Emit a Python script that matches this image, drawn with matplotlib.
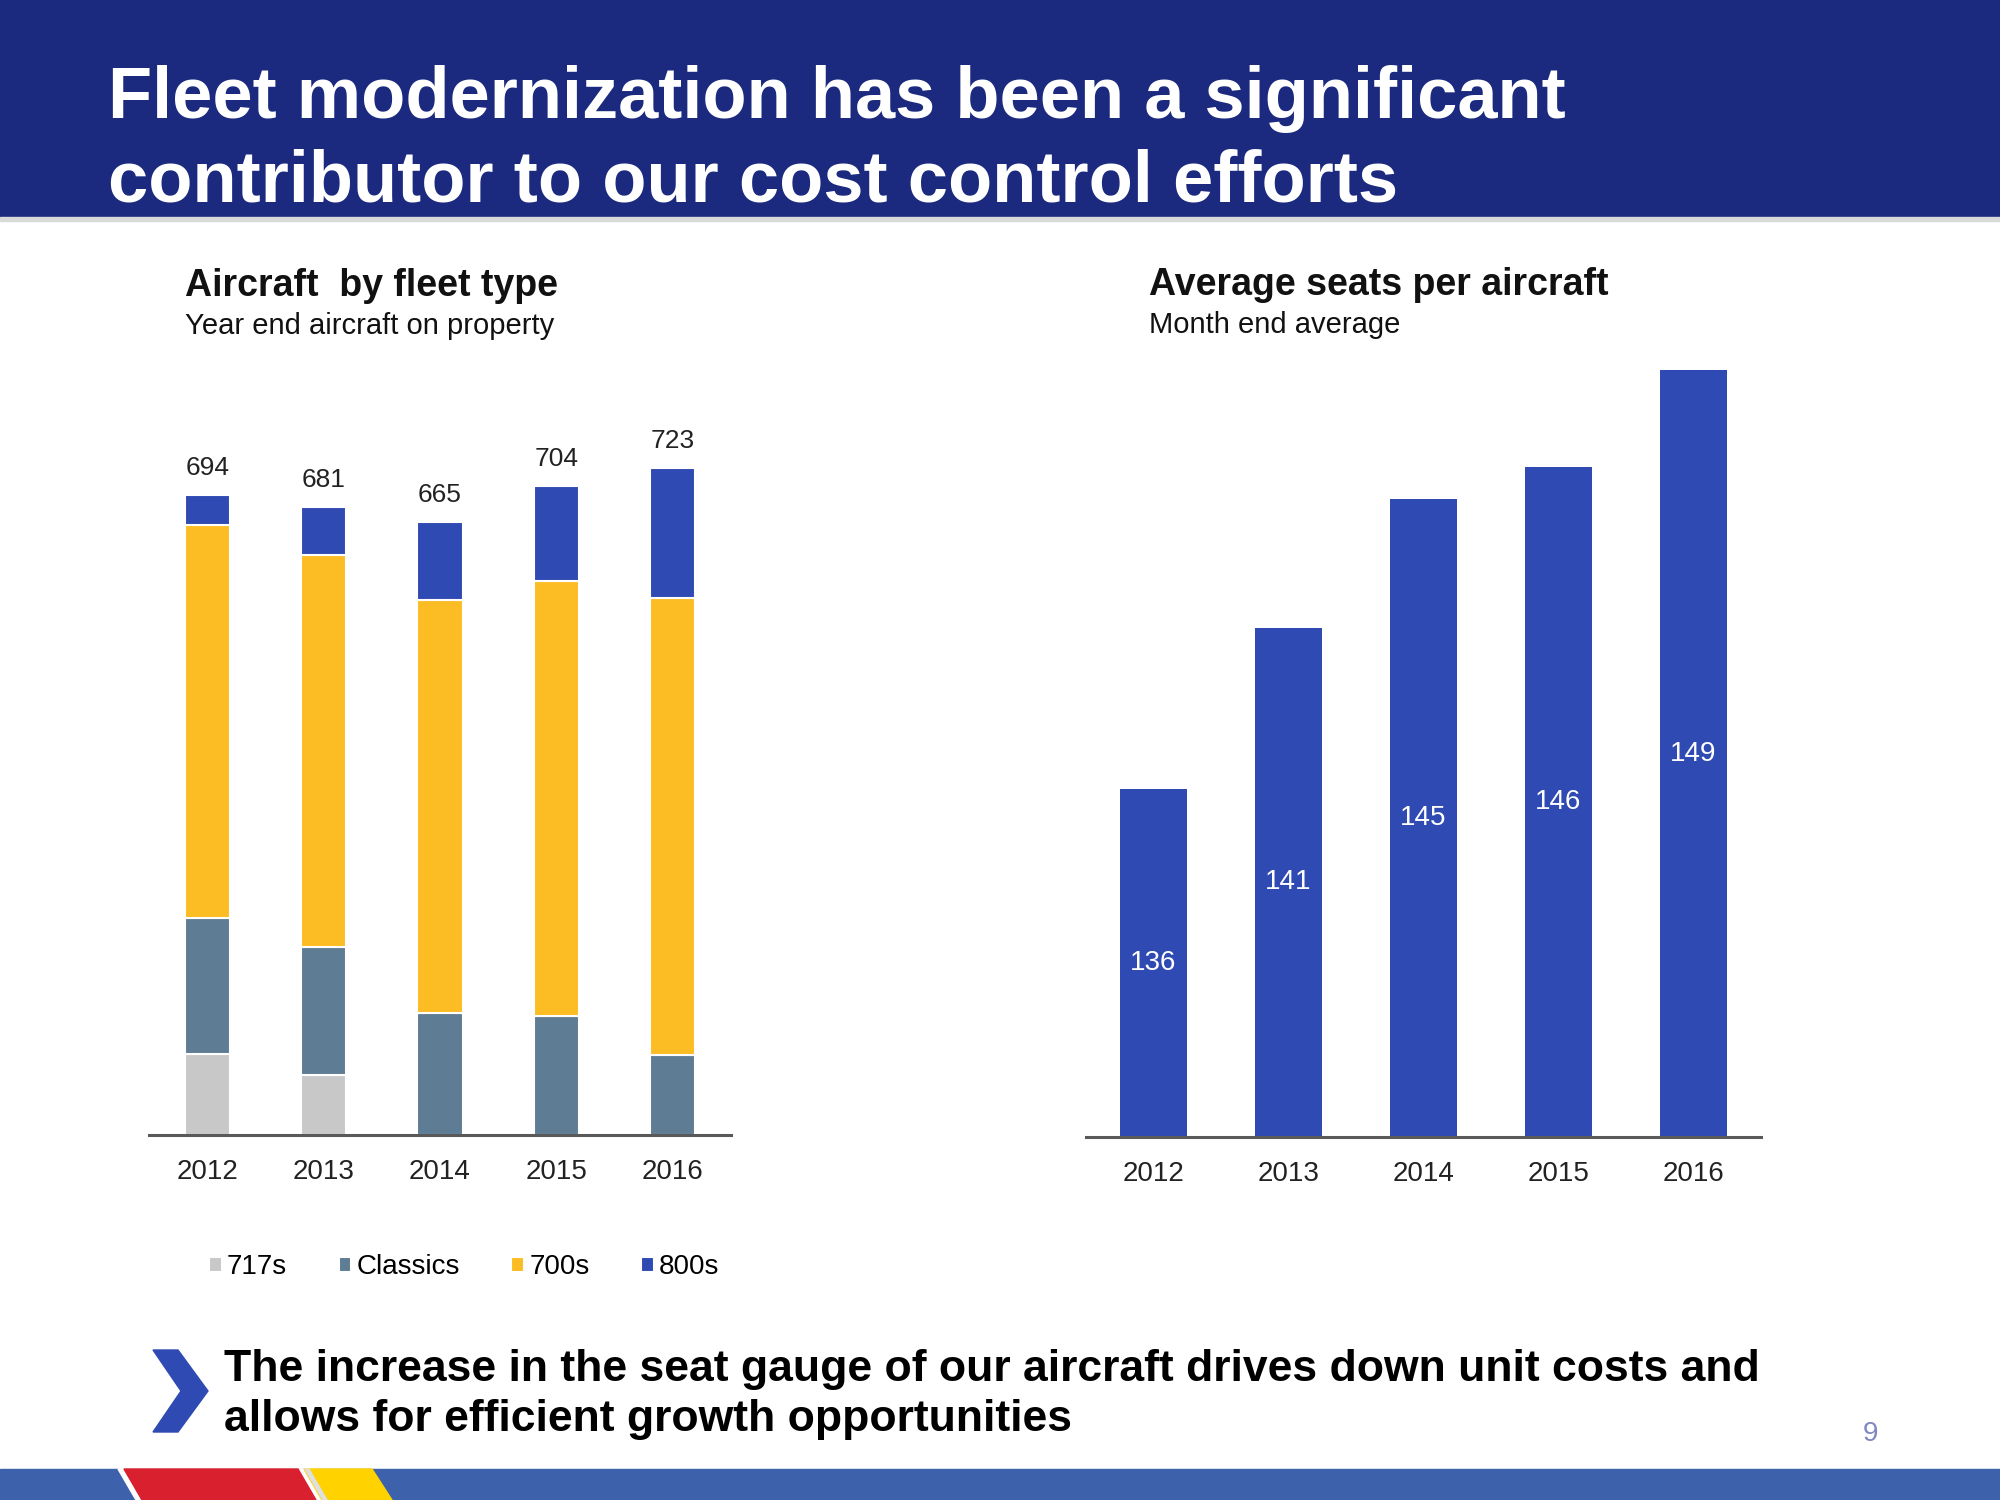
import numpy as np
import matplotlib.pyplot as plt
from matplotlib.patches import Polygon, Rectangle

plt.rcParams['font.family'] = ['Liberation Sans', 'DejaVu Sans']

# Datos
years = ['2012', '2013', '2014', '2015', '2016']
s717 = [88, 65, 0, 0, 0]
classics = [147, 139, 132, 129, 87]
s700 = [426, 425, 448, 472, 495]
s800 = [33, 52, 85, 103, 141]
fleet_labels = ['717s', 'Classics', '700s', '800s']
fleet_colors = ['#C8C8C8', '#5E7C93', '#FBBD23', '#2F4AB2']

seats = [136, 141, 145, 146, 149]
seats_base = 125.2

navy = '#1B2A7E'
blue = '#2F4AB2'

fig = plt.figure(figsize=(20, 15), dpi=100)

# Banda del titulo
fig.patches.append(Rectangle((0, 1 - 217 / 1500), 1, 217 / 1500, transform=fig.transFigure,
                             color=navy, zorder=0))
fig.patches.append(Rectangle((0, 1 - 221 / 1500), 1, 4 / 1500, transform=fig.transFigure,
                             color='#D9D9D9', zorder=0))
fig.text(108 / 2000, 1 - 118 / 1500, 'Fleet modernization has been a significant',
         color='white', fontsize=52, fontweight='bold', va='baseline')
fig.text(108 / 2000, 1 - 202 / 1500, 'contributor to our cost control efforts',
         color='white', fontsize=52, fontweight='bold', va='baseline')

# Grafica izquierda: apilada
ax1 = fig.add_axes([149 / 2000, 365 / 1500, 582 / 2000, 738 / 1500])
x = np.arange(len(years))
bottom = np.zeros(len(years))
handles = []
for vals, lab, col in zip([s717, classics, s700, s800], fleet_labels, fleet_colors):
    b = ax1.bar(x, vals, width=0.39, bottom=bottom, color=col, edgecolor='white',
                linewidth=1.5, label=lab)
    handles.append(b)
    bottom += np.array(vals)
for xi, tot in zip(x, bottom):
    ax1.text(xi, tot + 16, f'{int(tot)}', ha='center', va='bottom', fontsize=19, color='#222222')
ax1.set_xlim(-0.5, 4.5)
ax1.set_ylim(0, 800)
ax1.set_xticks(x)
ax1.set_xticklabels(years, fontsize=20, color='#222222')
ax1.tick_params(axis='x', length=0, pad=17)
ax1.set_yticks([])
for sp in ['top', 'right', 'left']:
    ax1.spines[sp].set_visible(False)
ax1.spines['bottom'].set_color('#595959')
ax1.spines['bottom'].set_linewidth(2.2)

leg = fig.legend(handles=handles, labels=fleet_labels, loc='center left',
                 bbox_to_anchor=(209 / 2000, 1 - 1267 / 1500), ncol=4, frameon=False,
                 fontsize=20, handlelength=0.45, handleheight=0.45, handletextpad=0.2,
                 columnspacing=1.85, borderaxespad=0, borderpad=0)

fig.text(185 / 2000, 1 - 296 / 1500, 'Aircraft  by fleet type', fontsize=27,
         fontweight='bold', va='baseline', color='#111111')
fig.text(185 / 2000, 1 - 334 / 1500, 'Year end aircraft on property', fontsize=21,
         va='baseline', color='#111111')

# Grafica derecha: asientos promedio
ax2 = fig.add_axes([1086 / 2000, 363 / 1500, 675 / 2000, 799 / 1500])
ax2.bar(x, np.array(seats) - seats_base, bottom=seats_base, width=0.49, color=blue)
for xi, v in zip(x, seats):
    ax2.text(xi, (v + seats_base) / 2, f'{v}', ha='center', va='center', fontsize=20, color='white')
ax2.set_xlim(-0.5, 4.5)
ax2.set_ylim(seats_base, 150)
ax2.set_xticks(x)
ax2.set_xticklabels(years, fontsize=20, color='#222222')
ax2.tick_params(axis='x', length=0, pad=17)
ax2.set_yticks([])
for sp in ['top', 'right', 'left']:
    ax2.spines[sp].set_visible(False)
ax2.spines['bottom'].set_color('#595959')
ax2.spines['bottom'].set_linewidth(2.2)

fig.text(1149 / 2000, 1 - 295 / 1500, 'Average seats per aircraft', fontsize=27,
         fontweight='bold', va='baseline', color='#111111')
fig.text(1149 / 2000, 1 - 333 / 1500, 'Month end average', fontsize=21,
         va='baseline', color='#111111')

# Texto inferior con chevron
chev = [(153, 1350), (178, 1350), (208, 1391), (178, 1432), (153, 1432), (181, 1391)]
fig.patches.append(Polygon([(px / 2000, 1 - py / 1500) for px, py in chev], closed=True,
                           transform=fig.transFigure, color=blue))
fig.text(224 / 2000, 1 - 1381 / 1500,
         'The increase in the seat gauge of our aircraft drives down unit costs and',
         fontsize=32, fontweight='bold', va='baseline', color='black')
fig.text(224 / 2000, 1 - 1431 / 1500, 'allows for efficient growth opportunities',
         fontsize=32, fontweight='bold', va='baseline', color='black')
fig.text(1870 / 2000, 1 - 1441 / 1500, '9', fontsize=20, color='#8088BF', ha='center',
         va='baseline')

# Franja inferior
def fpoly(pts, col):
    fig.patches.append(Polygon([(px / 2000, 1 - py / 1500) for px, py in pts], closed=True,
                               transform=fig.transFigure, color=col, zorder=1))

fpoly([(0, 1469), (2000, 1469), (2000, 1500), (0, 1500)], '#3D62AB')
fpoly([(118, 1469), (316, 1469), (336, 1500), (136, 1500)], 'white')
fpoly([(124, 1469), (298, 1469), (316, 1500), (142, 1500)], '#D9202E')
fpoly([(304, 1469), (372, 1469), (392, 1500), (322, 1500)], '#FFD200')
fpoly([(305, 1469), (309, 1469), (327, 1500), (323, 1500)], '#E0E0E0')

fig.savefig('out.png', dpi=100)
